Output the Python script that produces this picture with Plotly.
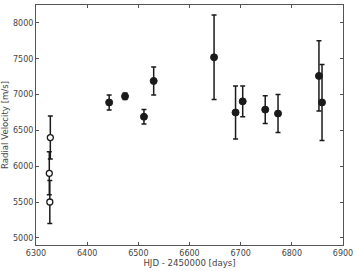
import plotly.graph_objects as go

# Open-symbol measurements
open_hjd = [6328, 6326, 6327]
open_rv = [6400, 5900, 5500]
open_err = [300, 300, 300]

# Filled-symbol measurements
fill_hjd = [6443, 6474, 6511, 6530, 6648, 6690, 6704, 6748, 6773, 6853, 6859]
fill_rv = [6890, 6975, 6690, 7190, 7520, 6750, 6905, 6790, 6735, 7260, 6890]
fill_err = [105, 45, 100, 195, 590, 370, 215, 195, 265, 490, 530]

x_ticks = [6300, 6400, 6500, 6600, 6700, 6800, 6900]
y_ticks = [5000, 5500, 6000, 6500, 7000, 7500, 8000]

fig = go.Figure()
fig.add_trace(go.Scatter(
    x=fill_hjd, y=fill_rv, mode="markers",
    marker=dict(color="#1a1a1a", size=7, line=dict(color="#1a1a1a", width=1)),
    error_y=dict(type="data", array=fill_err, visible=True, color="#1a1a1a", thickness=1.5, width=2.5),
    showlegend=False,
))
fig.add_trace(go.Scatter(
    x=open_hjd, y=open_rv, mode="markers",
    marker=dict(color="white", size=6, line=dict(color="#1a1a1a", width=1.3)),
    error_y=dict(type="data", array=open_err, visible=True, color="#1a1a1a", thickness=1.5, width=2.5),
    showlegend=False,
))

axis_common = dict(
    showgrid=False, zeroline=False, showline=True, linecolor="#555555", linewidth=1,
    mirror="allticks", ticks="inside", ticklen=3, tickcolor="#555555",
    tickfont=dict(family="DejaVu Sans", size=8, color="#444444"),
    ticklabeloverflow="allow",
)
title_font = dict(family="DejaVu Sans", size=8.6, color="#444444")
fig.update_xaxes(range=[6300, 6900], tickvals=x_ticks, ticktext=[str(v) for v in x_ticks],
                 title=dict(text="HJD - 2450000 [days]", font=title_font, standoff=3),
                 **axis_common)
fig.update_yaxes(range=[4900, 8250], tickvals=y_ticks, ticktext=[str(v) for v in y_ticks],
                 title=dict(text="Radial Velocity [m/s]", font=title_font, standoff=3),
                 **axis_common)
fig.update_layout(
    width=357, height=271,
    margin=dict(l=36, r=10, t=4, b=26),
    plot_bgcolor="white", paper_bgcolor="white",
)
fig.write_html("out.html")
